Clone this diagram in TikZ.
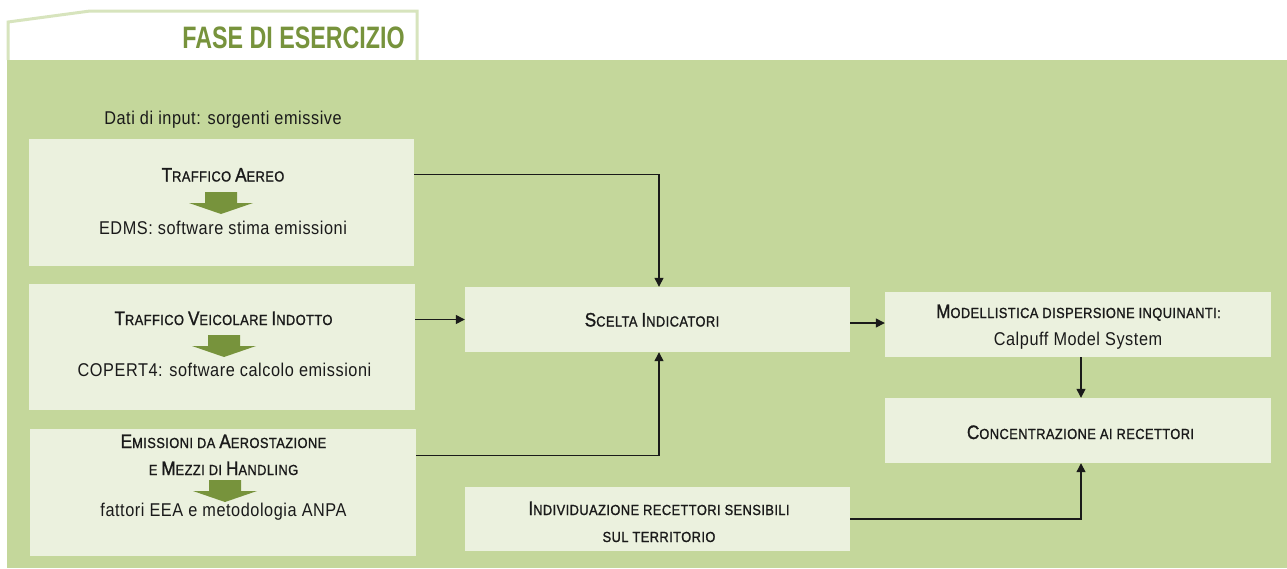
\documentclass[tikz,border=0pt]{standalone}
\usepackage{fontspec}
\setmainfont{Liberation Sans}[FakeStretch=0.88, LetterSpace=3]
\newfontfamily\headfont{Liberation Sans}[FakeStretch=0.88, LetterSpace=3, FakeBold=1.2]
\newfontfamily\titlefont{Liberation Sans}[FakeStretch=0.75]
\usetikzlibrary{arrows.meta,calc}
\definecolor{bggreen}{HTML}{C4D79B}
\definecolor{tabline}{HTML}{D7E4BD}
\definecolor{boxfill}{HTML}{EBF1DE}
\definecolor{titlegreen}{HTML}{77933C}
\definecolor{arrowgreen}{HTML}{77933C}
\definecolor{ink}{HTML}{1A1A1A}
\newcommand\bigc{\fontsize{19.5}{20}\selectfont}
\newcommand\smc{\headfont\fontsize{14.6}{20}\selectfont}
\newcommand\garrow[2]{\fill[arrowgreen] (#1-16,#2) -- (#1+16,#2) -- (#1+16,#2+11) -- (#1+32,#2+11) -- (#1,#2+22) -- (#1-32,#2+11) -- (#1-16,#2+11) -- cycle;}
\begin{document}
\begin{tikzpicture}[x=1pt,y=-1pt,
  box/.style={fill=boxfill, draw=none, inner sep=0pt},
  conn/.style={draw=ink, line width=1.3pt, -{Triangle[length=9pt,width=9pt]}},
  body/.style={inner sep=0pt, anchor=base, text=ink, font=\fontsize{18.5}{20}\selectfont},
  head/.style={inner sep=0pt, anchor=base, text=ink, font=\smc}]
\useasboundingbox (0,0) rectangle (1287,568);
\fill[bggreen] (7,60) rectangle (1287,568);
\draw[tabline, line width=3pt, fill=white] (8,60) -- (8,22) -- (90,11) -- (417,11) -- (417,60);
\fill[bggreen] (7,60) rectangle (1287,66);
\node[inner sep=0pt, anchor=base, text=titlegreen, font={\titlefont\bfseries\fontsize{31}{32}\selectfont}] (title) at (293.5,48) {FASE DI ESERCIZIO};
\node[body] (dati) at (223,124) {Dati di input: sorgenti emissive};

% boxes
\node[box, minimum width=385pt, minimum height=127pt] (a) at (221.5,202.5) {};
\node[box, minimum width=386pt, minimum height=126pt] (b) at (222,347) {};
\node[box, minimum width=386pt, minimum height=127pt] (c) at (223,492.5) {};
\node[box, minimum width=385pt, minimum height=65pt] (s) at (657.5,319.5) {};
\node[box, minimum width=386pt, minimum height=65pt] (m) at (1078,324.5) {};
\node[box, minimum width=386pt, minimum height=65pt] (k) at (1078,430.5) {};
\node[box, minimum width=385pt, minimum height=64pt] (i) at (657.5,519) {};

% box texts
\node[head] (ah) at (223,181.5) {{\bigc T}RAFFICO {\bigc A}EREO};
\garrow{221}{192}
\node[body] (at) at (223,234) {EDMS: software stima emissioni};

\node[head] (bh) at (223.5,325) {{\bigc T}RAFFICO {\bigc V}EICOLARE {\bigc I}NDOTTO};
\garrow{224}{335}
\node[body] (bt) at (224.5,376) {COPERT4: software calcolo emissioni};

\node[head] (ch1) at (223.5,448) {{\bigc E}MISSIONI DA {\bigc A}EROSTAZIONE};
\node[head] (ch2) at (223.5,475) {E {\bigc M}EZZI DI {\bigc H}ANDLING};
\garrow{225}{480}
\node[body] (ct) at (223.5,516) {fattori EEA e metodologia ANPA};

\node[head] (st) at (652,326.5) {{\bigc S}CELTA {\bigc I}NDICATORI};
\node[head] (mt1) at (1078.5,318) {{\bigc M}ODELLISTICA DISPERSIONE INQUINANTI:};
\node[body] (mt2) at (1078,345) {Calpuff Model System};
\node[head] (kt) at (1080.5,439) {{\bigc C}ONCENTRAZIONE AI RECETTORI};
\node[head] (it1) at (659,515) {{\bigc I}NDIVIDUAZIONE RECETTORI SENSIBILI};
\node[head] (it2) at (659,542) {SUL TERRITORIO};

% connectors
\draw[conn] ($(a.north east)+(0,36)$) -| ([xshift=1.5pt]s.north);
\draw[conn] (b.north east |- s.west) -- (s.west);
\draw[conn] ($(c.north east)+(0,27)$) -| ([xshift=1.5pt]s.south);
\draw[conn] (s.east |- 0,323) -- (m.west |- 0,323);
\draw[conn] ([xshift=3pt]m.south) -- ([xshift=3pt]k.north);
\draw[conn] (i.east) -| ([xshift=3pt]k.south);
\end{tikzpicture}
\end{document}
